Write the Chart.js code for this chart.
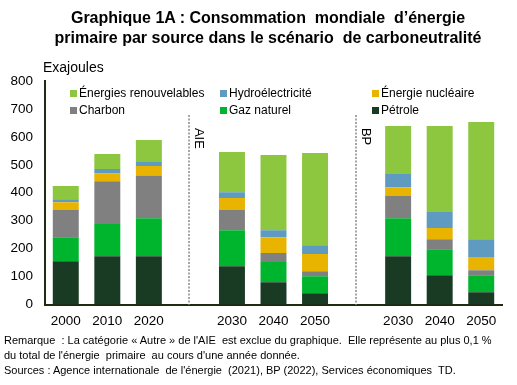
<!DOCTYPE html>
<html><head><meta charset="utf-8">
<script src="https://cdn.jsdelivr.net/npm/chart.js@4.4.0/dist/chart.umd.min.js"></script>
<style>
html,body{margin:0;padding:0;background:#fff;width:517px;height:385px;overflow:hidden;font-family:"Liberation Sans",Arial,sans-serif;color:#000}
#wrap{position:relative;width:517px;height:385px}
canvas{position:absolute;left:0;top:0}
.title{position:absolute;left:0;width:536px;text-align:center;font-weight:bold;font-size:16px;line-height:20px;top:8px;white-space:pre}
.unit{position:absolute;left:43px;top:59px;font-size:14px}
.note{position:absolute;left:4px;top:333px;font-size:11px;line-height:15px;white-space:pre}
.leg{position:absolute;font-size:12px;line-height:14px;white-space:nowrap}
.leg i{display:inline-block;width:7px;height:7px;margin-right:2px;vertical-align:0px}
</style></head>
<body><div id="wrap">
<canvas id="c" width="517" height="340"></canvas>
<div class="title">Graphique 1A : Consommation  mondiale  d’énergie
primaire par source dans le scénario  de carboneutralité</div>
<div class="unit">Exajoules</div>
<div id="legend"></div>
<div class="note">Remarque  : La catégorie « Autre » de l'AIE  est exclue du graphique.  Elle représente au plus 0,1 %
du total de l'énergie  primaire  au cours d'une année donnée.
Sources : Agence internationale  de l'énergie  (2021), BP (2022), Services économiques  TD.</div>
</div>
<script>
const categories = ["2000","2010","2020","","2030","2040","2050","","2030","2040","2050"];
const yTicks = [0,100,200,300,400,500,600,700,800];
const seriesNames = ["Pétrole","Gaz naturel","Charbon","Énergie nucléaire","Hydroélectricité","Énergies renouvelables"];
const petrole      = [155,173,173,null,137, 80, 40,null,173,105, 44];
const gazNaturel   = [ 86,115,136,null,129, 72, 61,null,136, 93, 61];
const charbon      = [ 97,153,153,null, 72, 32, 18,null, 79, 36, 18];
const nucleaire    = [ 28, 28, 34,null, 43, 57, 62,null, 32, 40, 47];
const hydro        = [ 11, 16, 14,null, 21, 25, 31,null, 47, 57, 64];
const renouvelables= [ 47, 54, 79,null,144,269,330,null,172,308,419];
const groupLabels = ["AIE","BP"];
const dividerSlots = [3,7];

const colors = ["#193B24","#00B52E","#808080","#E8B400","#5F9AC1","#8DC63F"];
const seriesData = [petrole,gazNaturel,charbon,nucleaire,hydro,renouvelables];

const datasets = seriesNames.map((n,i)=>({label:n,data:seriesData[i],backgroundColor:colors[i],borderWidth:0,
  categoryPercentage:1,barPercentage:0.625}));

// HTML legend in Excel order (3 columns x 2 rows)
const legOrder = [[5,4,3],[2,1,0]];
const colX = [70,220,372], rowY=[86,103];
const legEl = document.getElementById('legend');
legOrder.forEach((row,r)=>row.forEach((si,c)=>{
  const d=document.createElement('div');d.className='leg';
  d.style.left=colX[c]+'px';d.style.top=rowY[r]+'px';
  d.innerHTML='<i style="background:'+colors[si]+'"></i>'+seriesNames[si];
  legEl.appendChild(d);
}));

const dividerPlugin = {
  id:'dividers',
  afterDatasetsDraw(chart){
    const {ctx, scales:{x,y}, chartArea} = chart;
    ctx.save();
    ctx.strokeStyle='#A6A6A6';ctx.lineWidth=2;ctx.setLineDash([2,1.5]);
    dividerSlots.forEach((s,k)=>{
      const px = Math.round(x.getPixelForValue(s))-1;
      ctx.beginPath();ctx.moveTo(px,y.getPixelForValue(678));ctx.lineTo(px,chartArea.bottom);ctx.stroke();
      ctx.save();
      ctx.setLineDash([]);
      ctx.translate(px+10, y.getPixelForValue(632));
      ctx.rotate(Math.PI/2);
      ctx.fillStyle='#000';ctx.font='13px "Liberation Sans", Arial, sans-serif';
      ctx.textAlign='left';ctx.textBaseline='middle';
      ctx.fillText(groupLabels[k],0,0);
      ctx.restore();
    });
    ctx.restore();
  }
};

new Chart(document.getElementById('c'),{
  type:'bar',
  data:{labels:categories,datasets},
  options:{
    responsive:false,animation:false,
    layout:{padding:{top:81,right:15,left:0,bottom:0}},
    plugins:{legend:{display:false},tooltip:{enabled:false}},
    scales:{
      x:{stacked:true,grid:{display:false,drawTicks:false},
         border:{display:true,color:'#1E2A12',width:2},
         ticks:{color:'#000',font:{family:'"Liberation Sans", Arial, sans-serif',size:13.5},padding:9,maxRotation:0,autoSkip:false},
         afterFit(s){s.height=35.5;}},
      y:{stacked:true,min:0,max:800,
         grid:{display:false,drawTicks:false},
         border:{display:true,color:'#1E2A12',width:2},
         afterBuildTicks(s){s.ticks=yTicks.map(v=>({value:v}));},
         ticks:{color:'#000',font:{family:'"Liberation Sans", Arial, sans-serif',size:13.5},padding:12},
         afterFit(s){s.width=45;}}
    }
  },
  plugins:[dividerPlugin]
});
</script>
</body></html>
